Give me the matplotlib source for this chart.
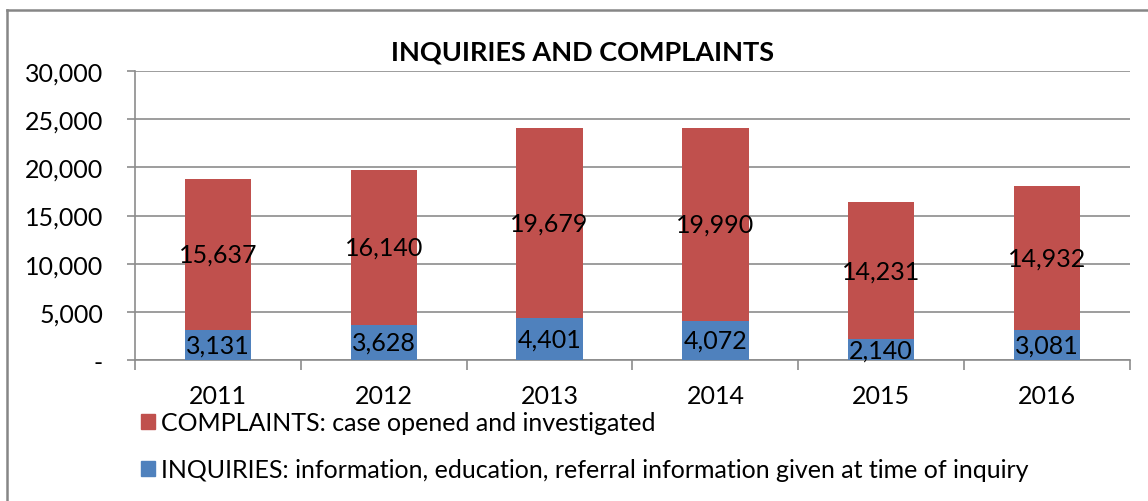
import matplotlib
matplotlib.use("Agg")
import matplotlib.pyplot as plt
from matplotlib.patches import Patch
from matplotlib.lines import Line2D
from matplotlib.ticker import FuncFormatter, FixedLocator

years = ["2011", "2012", "2013", "2014", "2015", "2016"]
inquiries = [3131, 3628, 4401, 4072, 2140, 3081]
complaints = [15637, 16140, 19679, 19990, 14231, 14932]
yticks = [0, 5000, 10000, 15000, 20000, 25000, 30000]

blue = "#4F81BD"
red = "#C0504D"
grid_c = "#8C8C8C"

plt.rcParams['font.family'] = ['Lato', 'DejaVu Sans']
FS = 18

fig = plt.figure(figsize=(11.48, 5.02), dpi=100)
W, H = 1148, 502
ax = fig.add_axes([135 / W, 1 - 361 / H, (1130 - 135) / W, (361 - 72) / H])

x = list(range(len(years)))
bw = 0.4
ax.bar(x, inquiries, width=bw, color=blue, zorder=3)
ax.bar(x, complaints, width=bw, bottom=inquiries, color=red, zorder=3)

for i in x:
    ax.text(i, inquiries[i] / 2, f"{inquiries[i]:,}", ha="center", va="center",
            fontsize=FS, color="black", zorder=4)
    ax.text(i, inquiries[i] + complaints[i] / 2, f"{complaints[i]:,}", ha="center",
            va="center", fontsize=FS, color="black", zorder=4)

ax.set_xlim(-0.5, len(years) - 0.5)
ax.set_ylim(0, 30000)
ax.yaxis.set_major_locator(FixedLocator(yticks))
ax.yaxis.set_major_formatter(FuncFormatter(lambda v, p: "-" if v == 0 else f"{int(v):,}"))
ax.set_xticks(x)
ax.set_xticklabels(years)
ax.set_xticks([i - 0.5 for i in range(len(years) + 1)], minor=True)
ax.tick_params(axis="x", which="major", length=0, pad=17, labelsize=FS)
ax.tick_params(axis="x", which="minor", length=7, color=grid_c, width=1.2)
ax.tick_params(axis="y", length=6, color=grid_c, width=1.2, labelsize=FS, pad=17)
ax.grid(axis="y", color=grid_c, linewidth=1.2, zorder=0)
for s in ["top", "right"]:
    ax.spines[s].set_visible(False)
for s in ["left", "bottom"]:
    ax.spines[s].set_color(grid_c)
    ax.spines[s].set_linewidth(1.2)

fig.text(582 / W, 1 - 53 / H, "INQUIRIES AND COMPLAINTS", ha="center", va="center",
         fontsize=19.5, fontweight="bold")

handles = [Patch(color=red, label="COMPLAINTS: case opened and investigated"),
           Patch(color=blue, label="INQUIRIES: information, education, referral information given at time of inquiry")]
fig.legend(handles=handles, loc="upper left", bbox_to_anchor=(141 / W, 1 - 412 / H),
           frameon=False, fontsize=FS, handlelength=0.55, handleheight=0.55,
           handletextpad=0.25, labelspacing=0.97, borderaxespad=0, borderpad=0)

# chart-area border (top and left edges visible)
fig.add_artist(Line2D([7 / W, 1.0], [1 - 11 / H, 1 - 11 / H], transform=fig.transFigure,
                      color="#868686", linewidth=1.8))
fig.add_artist(Line2D([7 / W, 7 / W], [0, 1 - 11 / H], transform=fig.transFigure,
                      color="#868686", linewidth=1.8))

fig.savefig("out.png", dpi=100)
